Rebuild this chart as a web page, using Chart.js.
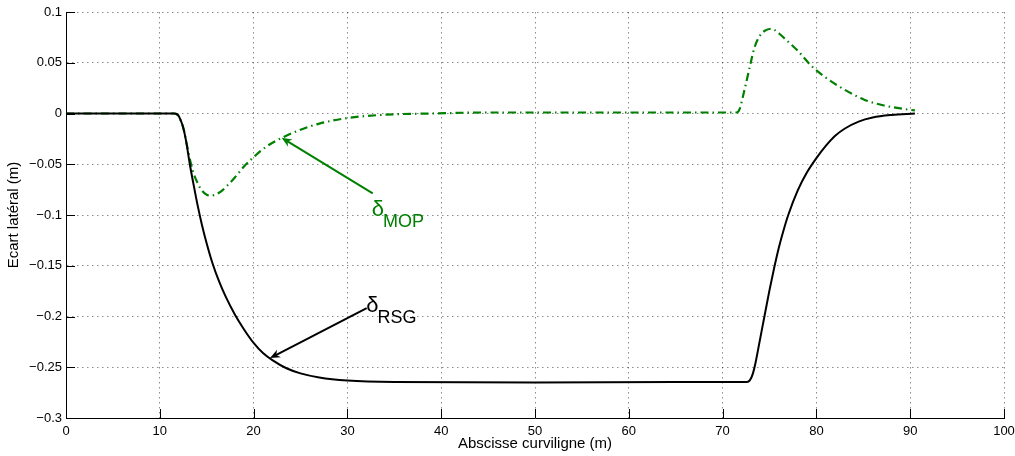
<!DOCTYPE html>
<html>
<head>
<meta charset="utf-8">
<script src="https://cdn.jsdelivr.net/npm/chart.js@4/dist/chart.umd.min.js"></script>
<style>
  html, body { margin: 0; padding: 0; background: #fff; }
  #wrap { width: 1015px; height: 456px; }
</style>
</head>
<body>
<div id="wrap"><canvas id="myChart" width="1015" height="456"></canvas></div>
<script>
'use strict';

// delta RSG (solid black)
const xRsg = [0, 11.5, 11.9, 12.2, 12.5, 12.8, 13.2, 13.6, 14.0, 14.5, 15.0, 15.6, 16.3, 17.0, 18.0, 19.0, 20.0, 21.0, 22.0, 23.5, 25, 27, 30, 35, 50, 65, 72.6,
  72.9, 73.2, 73.5, 74.0, 74.5, 75.0, 75.5, 76.0, 76.5, 77.0, 78.0, 79.0, 80.0, 81.0, 82.0, 83.0, 84.5, 86, 88, 90.5];
const yRsg = [0, 0, -0.001, -0.006, -0.014, -0.027, -0.05, -0.07, -0.089, -0.11, -0.128, -0.147, -0.165, -0.18, -0.198, -0.213, -0.226, -0.236, -0.243, -0.251, -0.256, -0.26, -0.263, -0.2645, -0.265, -0.2645, -0.2645,
  -0.263, -0.257, -0.246, -0.222, -0.198, -0.174, -0.152, -0.132, -0.115, -0.1, -0.076, -0.058, -0.044, -0.032, -0.022, -0.015, -0.008, -0.004, -0.0015, 0];

// delta MOP (green dash-dot)
const xMop = [0, 11.6, 12.0, 12.5, 13.0, 13.5, 14.0, 14.5, 15.0, 15.5, 16.0, 16.5, 17.2, 18.0, 19.0, 20.0, 21.3, 23.0, 25.0, 27.0, 30, 34, 39, 45, 55, 65, 71.5,
  71.8, 72.3, 72.9, 73.4, 74.0, 74.5, 75.2, 76.0, 76.6, 77.3, 78.0, 79.4, 81.2, 83.0, 85.1, 87.2, 89.3, 90.5];
const yMop = [0, 0, -0.003, -0.014, -0.036, -0.056, -0.068, -0.076, -0.08, -0.081, -0.0795, -0.077, -0.071, -0.063, -0.052, -0.043, -0.033, -0.024, -0.016, -0.01, -0.0045, -0.0012, 0, 0.001, 0.001, 0.001, 0.001,
  0.004, 0.022, 0.046, 0.065, 0.077, 0.0815, 0.0835, 0.079, 0.074, 0.068, 0.062, 0.0475, 0.034, 0.0235, 0.0136, 0.0079, 0.0045, 0.003];

// annotations: arrow [tailX, tailY, headX, headY], label anchor [x, y]
const arrowMop = [32.7, -0.0787, 22.99, -0.0239];
const arrowRsg = [32.06, -0.1918, 21.75, -0.241];
const labelMop = [32.6, -0.1013];
const labelRsg = [32.0, -0.1957];

const xTitle = 'Abscisse curviligne (m)';
const yTitle = 'Ecart latéral (m)';

const toPoints = (xs, ys) => xs.map((x, i) => ({ x: x, y: ys[i] }));

const fmtTick = v => {
  const r = Math.round(v * 100) / 100;
  return String(r).replace('-', '\u2212');
};

const green = '#008000';
const font = '"Liberation Sans", Arial, sans-serif';

// inward ticks, arrows and delta labels
const extras = {
  id: 'extras',
  afterDatasetsDraw(chart) {
    const c = chart.ctx, xs = chart.scales.x, ys = chart.scales.y, a = chart.chartArea;
    c.save();
    c.strokeStyle = '#000';
    c.lineWidth = 1;
    xs.ticks.forEach(t => {
      const px = Math.round(xs.getPixelForValue(t.value)) + 0.5;
      c.beginPath(); c.moveTo(px, a.bottom); c.lineTo(px, a.bottom - 9); c.stroke();
    });
    ys.ticks.forEach(t => {
      const py = Math.round(ys.getPixelForValue(t.value)) + 0.5;
      c.beginPath(); c.moveTo(a.left, py); c.lineTo(a.left + 9, py); c.stroke();
    });

    const arrow = (arr, col) => {
      const x1 = xs.getPixelForValue(arr[0]), y1 = ys.getPixelForValue(arr[1]);
      const x2 = xs.getPixelForValue(arr[2]), y2 = ys.getPixelForValue(arr[3]);
      const ang = Math.atan2(y2 - y1, x2 - x1);
      c.strokeStyle = col; c.fillStyle = col; c.lineWidth = 2;
      c.beginPath(); c.moveTo(x1, y1); c.lineTo(x2 - 6 * Math.cos(ang), y2 - 6 * Math.sin(ang)); c.stroke();
      c.beginPath();
      c.moveTo(x2, y2);
      c.lineTo(x2 - 11 * Math.cos(ang - 0.4), y2 - 11 * Math.sin(ang - 0.4));
      c.lineTo(x2 - 7 * Math.cos(ang), y2 - 7 * Math.sin(ang));
      c.lineTo(x2 - 11 * Math.cos(ang + 0.4), y2 - 11 * Math.sin(ang + 0.4));
      c.closePath(); c.fill();
    };
    arrow(arrowMop, green);
    arrow(arrowRsg, '#000');

    const label = (pos, sub, col) => {
      const px = xs.getPixelForValue(pos[0]), py = ys.getPixelForValue(pos[1]);
      c.fillStyle = col;
      c.textBaseline = 'alphabetic';
      c.textAlign = 'left';
      c.font = '22px ' + font;
      c.fillText('\u03b4', px, py);
      const w = c.measureText('\u03b4').width;
      c.font = '18px ' + font;
      c.fillText(sub, px + w - 1, py + 11);
    };
    label(labelMop, 'MOP', green);
    label(labelRsg, 'RSG', '#000');
    c.restore();
  }
};

const ctx = document.querySelector('#myChart').getContext('2d');
const myChart = new Chart(ctx, {
  type: 'scatter',
  data: {
    datasets: [{
      label: 'RSG',
      data: toPoints(xRsg, yRsg),
      showLine: true,
      borderColor: '#000',
      borderWidth: 2,
      pointRadius: 0,
      cubicInterpolationMode: 'monotone'
    }, {
      label: 'MOP',
      data: toPoints(xMop, yMop),
      showLine: true,
      borderColor: green,
      borderWidth: 2.2,
      borderDash: [8, 4, 1.5, 4],
      pointRadius: 0,
      cubicInterpolationMode: 'monotone'
    }]
  },
  options: {
    responsive: false,
    animation: false,
    layout: { padding: { top: 12, right: 11, left: 0, bottom: 0 } },
    plugins: {
      legend: { display: false },
      tooltip: { enabled: false }
    },
    scales: {
      x: {
        type: 'linear',
        min: 0,
        max: 100,
        afterFit: s => { s.height = 38; s.paddingLeft = 0; s.paddingRight = 0; },
        ticks: {
          stepSize: 10,
          padding: 6,
          color: '#000',
          font: { family: font, size: 13 },
          maxRotation: 0
        },
        grid: { color: 'rgba(0,0,0,0.45)', lineWidth: 1, drawTicks: false },
        border: { color: '#000', width: 1, dash: [1.5, 3.5] },
        title: {
          display: true,
          text: xTitle,
          color: '#000',
          font: { family: font, size: 15 },
          padding: { top: 0, bottom: 3 }
        }
      },
      y: {
        min: -0.3,
        max: 0.1,
        afterFit: s => { s.width = 66; s.paddingTop = 0; s.paddingBottom = 0; },
        ticks: {
          stepSize: 0.05,
          padding: 4,
          color: '#000',
          callback: v => fmtTick(v),
          font: { family: font, size: 13 }
        },
        grid: { color: 'rgba(0,0,0,0.45)', lineWidth: 1, drawTicks: false },
        border: { color: '#000', width: 1, dash: [1.5, 3.5] },
        title: {
          display: true,
          text: yTitle,
          color: '#000',
          font: { family: font, size: 15 },
          padding: { top: 5, bottom: 0 }
        }
      }
    }
  },
  plugins: [extras]
});
</script>
</body>
</html>
